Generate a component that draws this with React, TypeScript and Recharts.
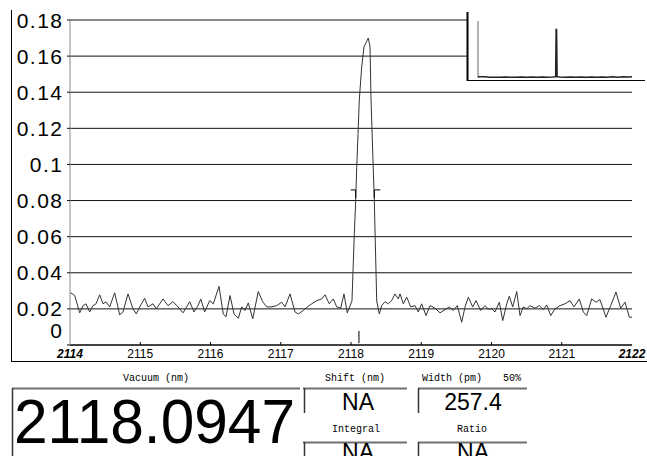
import React from 'react';
import { LineChart, Line, XAxis, YAxis, CartesianGrid, ReferenceLine } from 'recharts';

// ---- main spectrum ----
const wavelengthsNm = [
  2114.000, 2114.010, 2114.067, 2114.138, 2114.185, 2114.228, 2114.280, 2114.327, 2114.370, 2114.423,
  2114.470, 2114.512, 2114.565, 2114.636, 2114.707, 2114.754, 2114.826, 2114.897, 2114.944, 2114.992,
  2115.063, 2115.110, 2115.181, 2115.228, 2115.324, 2115.395, 2115.466, 2115.537, 2115.609, 2115.704,
  2115.765, 2115.822, 2115.861, 2115.917, 2115.989, 2116.040, 2116.121, 2116.182, 2116.221, 2116.278,
  2116.335, 2116.396, 2116.444, 2116.491, 2116.538, 2116.601, 2116.680, 2116.743, 2116.800, 2116.871,
  2116.942, 2117.014, 2117.061, 2117.132, 2117.203, 2117.250, 2117.321, 2117.378, 2117.441, 2117.512,
  2117.583, 2117.630, 2117.691, 2117.748, 2117.797, 2117.853, 2117.900, 2117.947, 2118.014, 2118.047,
  2118.067, 2118.081, 2118.100, 2118.118, 2118.152, 2118.185, 2118.246, 2118.271, 2118.285, 2118.332,
  2118.366, 2118.403, 2118.437, 2118.484, 2118.531, 2118.579, 2118.626, 2118.673, 2118.698, 2118.745,
  2118.793, 2118.850, 2118.911, 2118.958, 2119.006, 2119.068, 2119.125, 2119.196, 2119.267, 2119.338,
  2119.399, 2119.456, 2119.513, 2119.576, 2119.623, 2119.670, 2119.732, 2119.779, 2119.846, 2119.907,
  2119.954, 2120.003, 2120.050, 2120.111, 2120.160, 2120.217, 2120.254, 2120.302, 2120.359, 2120.406,
  2120.453, 2120.501, 2120.548, 2120.619, 2120.681, 2120.738, 2120.786, 2120.843, 2120.904, 2120.975,
  2121.046, 2121.118, 2121.174, 2121.250, 2121.307, 2121.355, 2121.426, 2121.488, 2121.544, 2121.630,
  2121.697, 2121.772, 2121.839, 2121.900, 2121.962, 2122.000,
];
const intensities = [
  0.0285, 0.0289, 0.0274, 0.0178, 0.0218, 0.0228, 0.0183, 0.0218, 0.0228, 0.0278,
  0.0228, 0.0239, 0.0211, 0.0289, 0.0167, 0.0183, 0.0283, 0.0200, 0.0172, 0.0211,
  0.0259, 0.0211, 0.0228, 0.0200, 0.0255, 0.0218, 0.0240, 0.0211, 0.0178, 0.0240,
  0.0183, 0.0218, 0.0255, 0.0183, 0.0246, 0.0228, 0.0325, 0.0172, 0.0156, 0.0274,
  0.0172, 0.0148, 0.0211, 0.0191, 0.0233, 0.0145, 0.0296, 0.0240, 0.0211, 0.0211,
  0.0218, 0.0237, 0.0211, 0.0283, 0.0183, 0.0172, 0.0191, 0.0211, 0.0228, 0.0246,
  0.0255, 0.0278, 0.0228, 0.0255, 0.0211, 0.0204, 0.0283, 0.0178, 0.0244, 0.0616,
  0.0798, 0.0981, 0.1170, 0.1357, 0.1540, 0.1651, 0.1700, 0.1651, 0.1357, 0.0798,
  0.0244, 0.0172, 0.0218, 0.0240, 0.0228, 0.0246, 0.0283, 0.0255, 0.0283, 0.0228,
  0.0265, 0.0211, 0.0218, 0.0183, 0.0228, 0.0163, 0.0218, 0.0204, 0.0178, 0.0196,
  0.0211, 0.0191, 0.0218, 0.0126, 0.0211, 0.0265, 0.0211, 0.0246, 0.0191, 0.0218,
  0.0200, 0.0200, 0.0183, 0.0237, 0.0135, 0.0228, 0.0270, 0.0211, 0.0296, 0.0163,
  0.0211, 0.0200, 0.0218, 0.0204, 0.0218, 0.0196, 0.0222, 0.0163, 0.0200, 0.0218,
  0.0228, 0.0246, 0.0211, 0.0255, 0.0183, 0.0163, 0.0255, 0.0237, 0.0251, 0.0154,
  0.0218, 0.0293, 0.0204, 0.0237, 0.0154, 0.0154,
];

const xTicks = [2114, 2115, 2116, 2117, 2118, 2119, 2120, 2121, 2122];
const yTicks = [0, 0.02, 0.04, 0.06, 0.08, 0.1, 0.12, 0.14, 0.16, 0.18];
const yTickLabels = ['0', '0.02', '0.04', '0.06', '0.08', '0.1', '0.12', '0.14', '0.16', '0.18'];

// half-width markers & centre marker
const halfLevel = 0.0859;
const halfTickBottom = 0.0814;
const halfLeftX = [2117.995, 2118.066];
const halfRightX = [2118.332, 2118.417];
const centreMarkerX = 2118.113;
const centreMarkerY = [0.001, 0.0078];

// ---- overview inset ----
const insetDomain = [1940, 2290];
const insetWavelengths = [
  1940, 1948, 1956, 1966, 1978, 1990, 2002, 2014, 2026, 2038, 2050, 2062, 2074, 2086, 2098,
  2110, 2116.5, 2117.6, 2118.6, 2119.8, 2126, 2138, 2150, 2162, 2174, 2186, 2198, 2210,
  2222, 2234, 2246, 2258, 2270, 2282, 2290,
];
const insetIntensities = [
  0.004, 0.0035, 0.004, 0.002, 0.0025, 0.002, 0.003, 0.0025, 0.002, 0.003, 0.0025, 0.003, 0.002, 0.003, 0.0025,
  0.003, 0.004, 0.145, 0.145, 0.004, 0.003, 0.0025, 0.003, 0.002, 0.003, 0.0025, 0.003, 0.002,
  0.003, 0.0025, 0.0035, 0.0025, 0.004, 0.003, 0.004,
];

// ---- readout panel ----
const vacuumLabel = 'Vacuum (nm)';
const vacuumValue = '2118.0947';
const shiftLabel = 'Shift (nm)';
const shiftValue = 'NA';
const widthLabel = 'Width (pm)';
const widthLevel = '50%';
const widthValue = '257.4';
const integralLabel = 'Integral';
const integralValue = 'NA';
const ratioLabel = 'Ratio';
const ratioValue = 'NA';

const mainData = wavelengthsNm.map((w, i) => ({ w, v: intensities[i] }));
const insetData = insetWavelengths.map((w, i) => ({ w, v: insetIntensities[i] }));

const SANS = '"Liberation Sans", Arial, sans-serif';
const MONO = '"Liberation Mono", "DejaVu Sans Mono", monospace';

const YTick = (props: any) => {
  const { x, y, payload } = props;
  const idx = yTicks.indexOf(payload.value);
  const label = idx >= 0 ? yTickLabels[idx] : String(payload.value);
  const dy = payload.value === 0 ? -15 : 0;
  return (
    <text
      x={x - 3.5}
      y={y + dy}
      dy="0.36em"
      textAnchor="end"
      fontFamily={SANS}
      fontSize={21}
      letterSpacing={1.5}
      fill="#000"
    >
      {label}
    </text>
  );
};

const XTick = (props: any) => {
  const { x, y, payload } = props;
  const v = payload.value;
  const edge = v === 2114 || v === 2122;
  return (
    <g>
      {!edge && <line x1={x} x2={x} y1={y - 3} y2={y} stroke="#000" />}
      <text
        x={x}
        y={y + 13}
        textAnchor="middle"
        fontFamily={SANS}
        fontSize={12}
        fontWeight={edge ? 'bold' : 'normal'}
        fontStyle={edge ? 'italic' : 'normal'}
        fill="#000"
      >
        {v}
      </text>
    </g>
  );
};

export default function App() {
  return (
    <div style={{ position: 'absolute', left: 0, top: 0, width: 647, height: 456, background: '#fff', overflow: 'hidden' }}>
      <div style={{ position: 'absolute', left: 0, top: 0 }}>
        <LineChart width={647} height={362} data={mainData} margin={{ top: 20, right: 15, bottom: 3, left: 10 }}>
          <CartesianGrid horizontal vertical={false} stroke="#111" strokeDasharray="" />
          <XAxis
            dataKey="w"
            type="number"
            domain={[2114, 2122]}
            ticks={xTicks}
            interval={0}
            height={14}
            tickSize={0}
            tickMargin={0}
            tickLine={false}
            axisLine={{ stroke: '#000' }}
            tick={<XTick />}
            allowDataOverflow
          />
          <YAxis
            type="number"
            domain={[0, 0.18]}
            ticks={yTicks}
            interval={0}
            width={60}
            tickSize={3}
            tickMargin={0}
            tickLine={{ stroke: '#111' }}
            axisLine={{ stroke: '#8a8a8a' }}
            tick={<YTick />}
            allowDataOverflow
          />
          <Line
            type="linear"
            dataKey="v"
            stroke="#333"
            strokeWidth={1}
            dot={false}
            isAnimationActive={false}
          />
          <ReferenceLine segment={[{ x: halfLeftX[0], y: halfLevel }, { x: halfLeftX[1], y: halfLevel }]} stroke="#000" />
          <ReferenceLine segment={[{ x: halfLeftX[1], y: halfLevel }, { x: halfLeftX[1], y: halfTickBottom }]} stroke="#000" />
          <ReferenceLine segment={[{ x: halfRightX[0], y: halfLevel }, { x: halfRightX[1], y: halfLevel }]} stroke="#000" />
          <ReferenceLine segment={[{ x: halfRightX[0], y: halfLevel }, { x: halfRightX[0], y: halfTickBottom }]} stroke="#000" />
          <ReferenceLine segment={[{ x: centreMarkerX, y: centreMarkerY[0] }, { x: centreMarkerX, y: centreMarkerY[1] }]} stroke="#000" />
        </LineChart>
      </div>

      <div style={{ position: 'absolute', left: 467, top: 0, width: 180, height: 80, background: '#fff' }}>
        <LineChart width={180} height={80} data={insetData} margin={{ top: 21, right: 15, bottom: 2, left: 11 }}>
          <XAxis dataKey="w" type="number" domain={insetDomain} hide allowDataOverflow />
          <YAxis type="number" domain={[0, 0.17]} hide />
          <ReferenceLine x={insetDomain[0]} stroke="#999" strokeWidth={1.5} />
          <Line type="linear" dataKey="v" stroke="#222" strokeWidth={1.5} dot={false} isAnimationActive={false} />
        </LineChart>
      </div>

      <svg width={647} height={456} style={{ position: 'absolute', left: 0, top: 0, pointerEvents: 'none' }}>
        {/* chart frame */}
        <line x1={11.5} x2={11.5} y1={10} y2={361} stroke="#000" />
        <line x1={11} x2={647} y1={361.5} y2={361.5} stroke="#000" />
        {/* inset frame */}
        <line x1={467.5} x2={467.5} y1={12} y2={81} stroke="#000" strokeWidth={2} />
        <line x1={467} x2={645} y1={80.5} y2={80.5} stroke="#000" strokeWidth={1.2} />

        {/* vacuum readout */}
        <text x={156} y={381} textAnchor="middle" fontFamily={MONO} fontSize={10} fill="#000">{vacuumLabel}</text>
        <line x1={12} x2={300} y1={388.5} y2={388.5} stroke="#707070" strokeWidth={2} />
        <line x1={12.5} x2={12.5} y1={388} y2={456} stroke="#333" strokeWidth={1.5} />
        <text x={14} y={443} fontFamily={SANS} fontSize={63} textLength={281} lengthAdjust="spacingAndGlyphs" fill="#000">{vacuumValue}</text>

        {/* shift */}
        <text x={355} y={381} textAnchor="middle" fontFamily={MONO} fontSize={10} fill="#000">{shiftLabel}</text>
        <line x1={303} x2={407} y1={388.5} y2={388.5} stroke="#707070" strokeWidth={2} />
        <line x1={304.5} x2={304.5} y1={388} y2={413} stroke="#333" strokeWidth={1.5} />
        <text x={358} y={410} textAnchor="middle" fontFamily={SANS} fontSize={23} fill="#000">{shiftValue}</text>

        {/* width */}
        <text x={422} y={381} fontFamily={MONO} fontSize={10} fill="#000">{widthLabel}</text>
        <text x={503} y={381} fontFamily={MONO} fontSize={10} fill="#000">{widthLevel}</text>
        <line x1={418} x2={527} y1={388.5} y2={388.5} stroke="#707070" strokeWidth={2} />
        <line x1={418.5} x2={418.5} y1={388} y2={413} stroke="#333" strokeWidth={1.5} />
        <text x={473} y={410} textAnchor="middle" fontFamily={SANS} fontSize={23} fill="#000">{widthValue}</text>

        {/* integral */}
        <text x={356} y={432} textAnchor="middle" fontFamily={MONO} fontSize={10} fill="#000">{integralLabel}</text>
        <line x1={303} x2={407} y1={442.5} y2={442.5} stroke="#707070" strokeWidth={2} />
        <line x1={304.5} x2={304.5} y1={442} y2={456} stroke="#333" strokeWidth={1.5} />
        <text x={358} y={460} textAnchor="middle" fontFamily={SANS} fontSize={23} fill="#000">{integralValue}</text>

        {/* ratio */}
        <text x={472} y={432} textAnchor="middle" fontFamily={MONO} fontSize={10} fill="#000">{ratioLabel}</text>
        <line x1={418} x2={527} y1={442.5} y2={442.5} stroke="#707070" strokeWidth={2} />
        <line x1={418.5} x2={418.5} y1={442} y2={456} stroke="#333" strokeWidth={1.5} />
        <text x={473} y={460} textAnchor="middle" fontFamily={SANS} fontSize={23} fill="#000">{ratioValue}</text>
      </svg>
    </div>
  );
}
